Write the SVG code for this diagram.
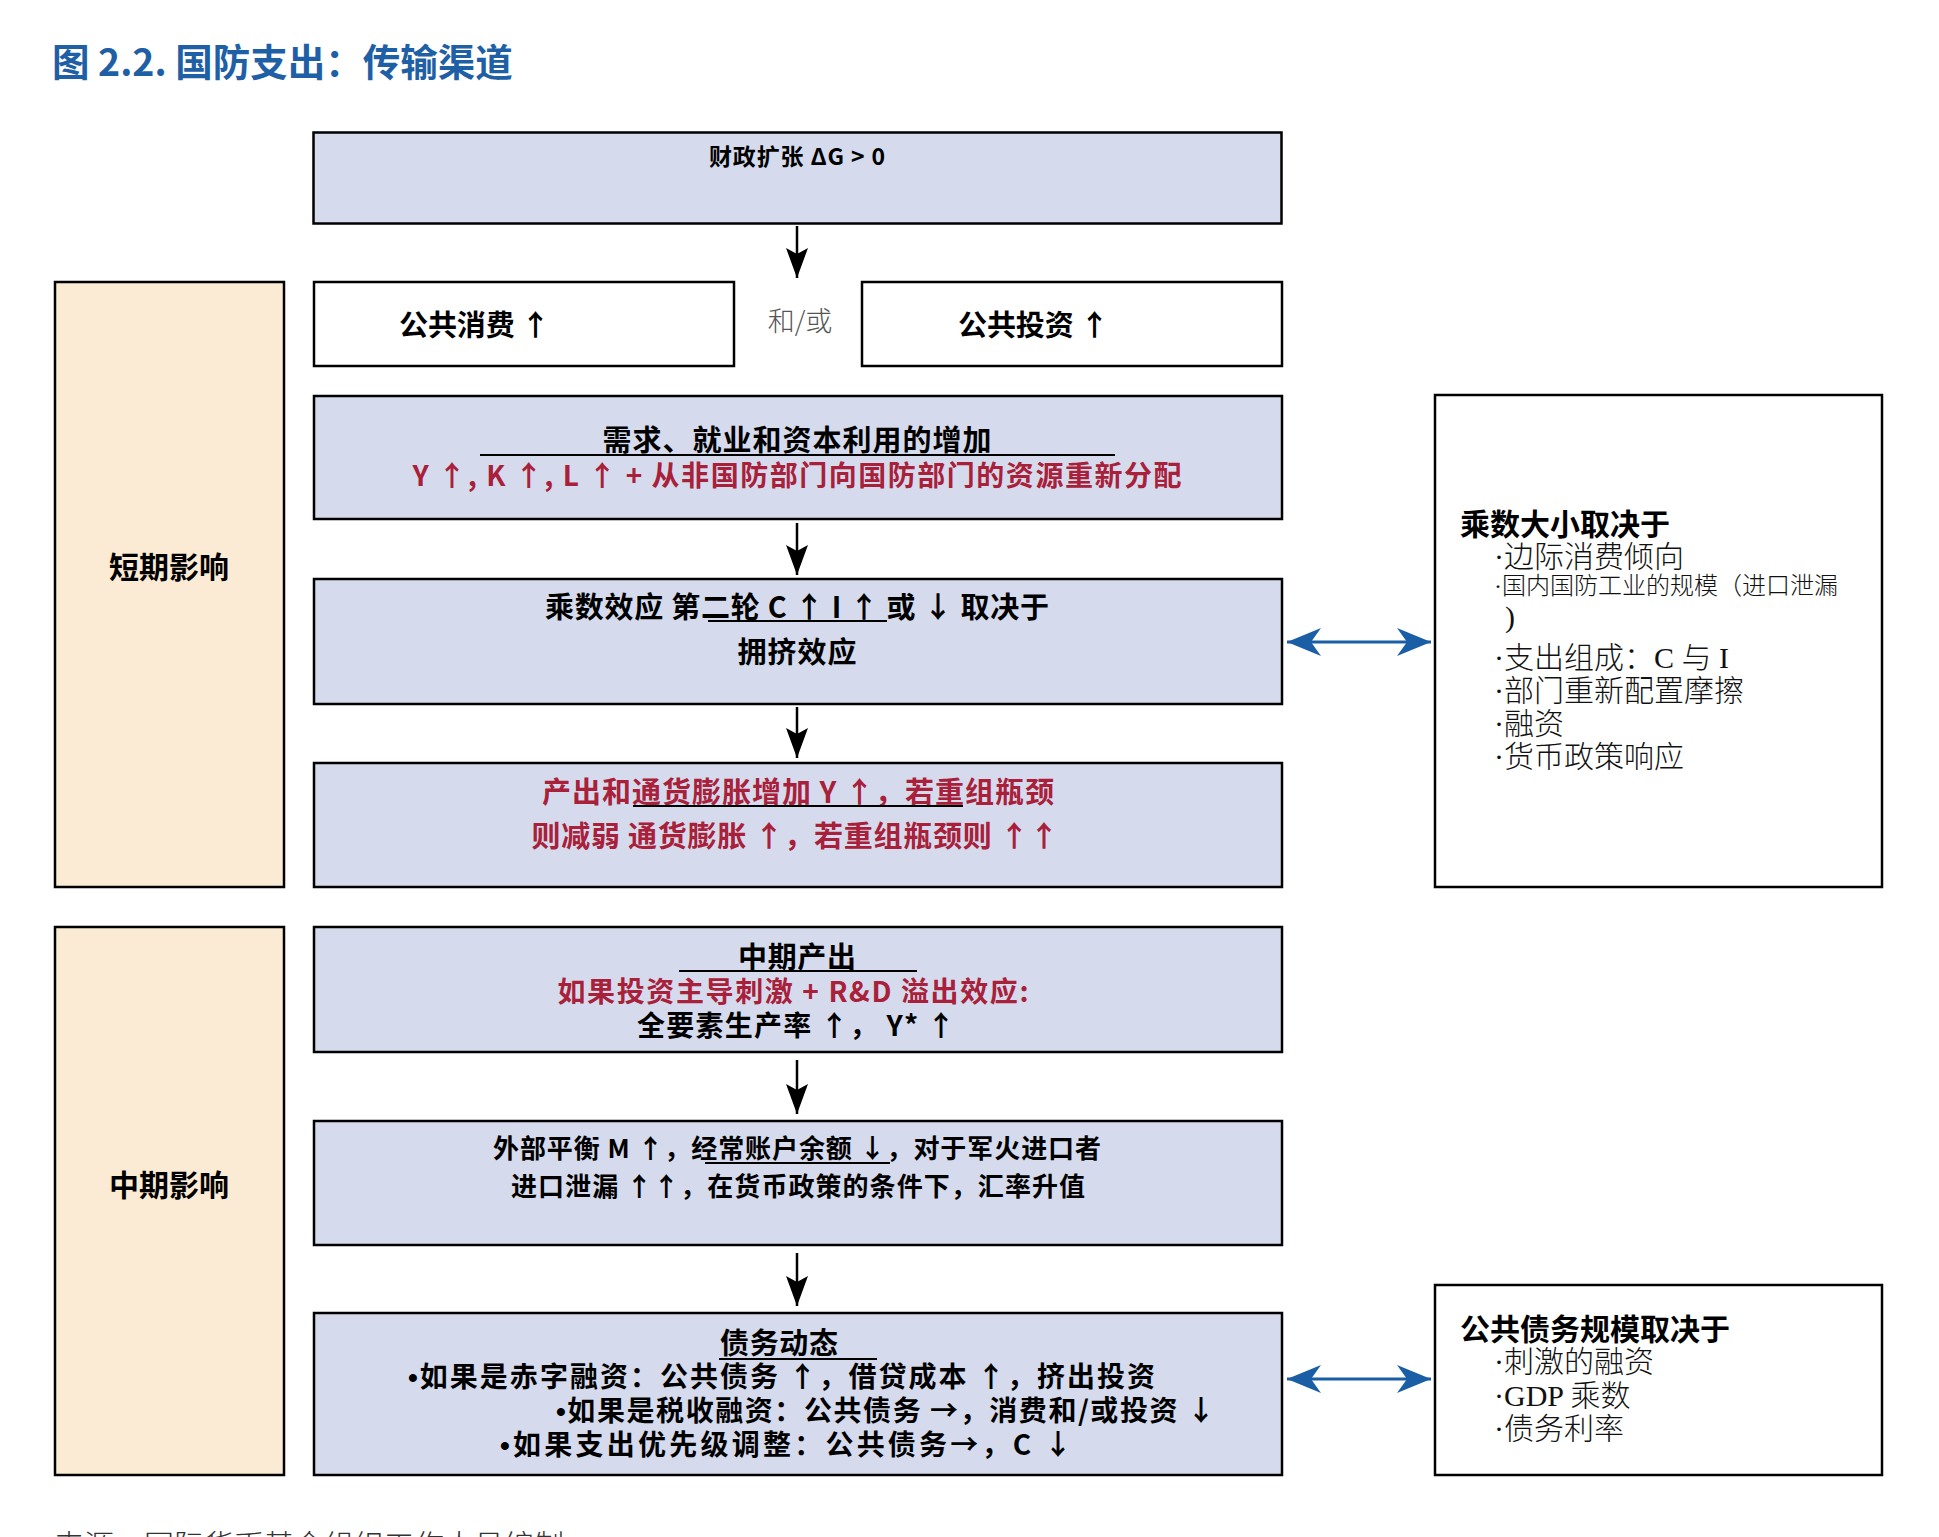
<svg xmlns="http://www.w3.org/2000/svg" width="1939" height="1537" viewBox="0 0 1939 1537">
<style>
.bx{fill:#d5dbec;stroke:#000;stroke-width:2.5}
.wb{fill:#fff;stroke:#000;stroke-width:2.5}
.pb{fill:#fbebd4;stroke:#000;stroke-width:2.5}
.b{font-family:"Noto Sans CJK SC","Noto Sans",sans-serif;font-weight:700;fill:#000}
.r{fill:#a8203a}
.c{text-anchor:middle}
.dot{font-family:"Liberation Sans",sans-serif}
.l{font-family:"Liberation Serif","Noto Sans CJK SC",serif;font-weight:300;fill:#111}
.ul{stroke:#000;stroke-width:2}
.ar{stroke:#000;stroke-width:2.5;fill:none}
.ab{stroke:#1a5ea6;stroke-width:3;fill:none}
</style>
<defs>
<marker id="ah" markerUnits="userSpaceOnUse" viewBox="-32 -12 34 24" markerWidth="34" markerHeight="24" refX="0" refY="0" orient="auto">
<path d="M0,0 L-30,-11 L-24,0 L-30,11 Z" fill="#000"/>
</marker>
<marker id="bh" markerUnits="userSpaceOnUse" viewBox="-36 -16 38 32" markerWidth="38" markerHeight="32" refX="0" refY="0" orient="auto-start-reverse">
<path d="M0,0 L-34,-14 L-24,0 L-34,14 Z" fill="#1a5ea6"/>
</marker>
</defs>
<rect width="1939" height="1537" fill="#fff"/>
<text x="52" y="76" font-family="Noto Sans CJK SC,sans-serif" font-weight="700" font-size="37.5" fill="#1f5fa6">图 2.2. 国防支出：传输渠道</text>

<g id="connectors">
<line class="ar" x1="797" y1="226" x2="797" y2="278" marker-end="url(#ah)"/>
<line class="ar" x1="797" y1="523" x2="797" y2="575" marker-end="url(#ah)"/>
<line class="ar" x1="797" y1="707" x2="797" y2="758" marker-end="url(#ah)"/>
<line class="ar" x1="797" y1="1060" x2="797" y2="1114" marker-end="url(#ah)"/>
<line class="ar" x1="797" y1="1253" x2="797" y2="1306" marker-end="url(#ah)"/>
<line class="ab" x1="1287" y1="642" x2="1431" y2="642" marker-start="url(#bh)" marker-end="url(#bh)"/>
<line class="ab" x1="1287" y1="1379" x2="1431" y2="1379" marker-start="url(#bh)" marker-end="url(#bh)"/>
</g>

<g id="fiscal">
<rect class="bx" x="313.5" y="132.5" width="968" height="91"/>
<text class="b c" x="797" y="165" font-size="23" textLength="176" lengthAdjust="spacing">财政扩张 ΔG &gt; 0</text>
</g>
<g id="public-consumption">
<rect class="wb" x="314" y="282" width="420" height="84"/>
<text class="b" x="399" y="336" font-size="29" textLength="151" lengthAdjust="spacing">公共消费 ↑</text>
</g>
<text id="andor" x="800" y="331" font-family="Noto Sans CJK SC,sans-serif" font-weight="300" font-size="27" fill="#555" text-anchor="middle">和/或</text>
<g id="public-investment">
<rect class="wb" x="862" y="282" width="420" height="84"/>
<text class="b" x="958" y="336" font-size="29" textLength="151" lengthAdjust="spacing">公共投资 ↑</text>
</g>

<g id="short-term">
<rect class="pb" x="55" y="282" width="229" height="605"/>
<text class="b c" x="169" y="578" font-size="30">短期影响</text>
</g>
<g id="mid-term">
<rect class="pb" x="55" y="927" width="229" height="548"/>
<text class="b c" x="169" y="1196" font-size="30">中期影响</text>
</g>

<g id="demand">
<rect class="bx" x="314" y="396" width="968" height="123"/>
<text class="b c" x="797" y="451" font-size="29" textLength="389" lengthAdjust="spacing">需求、就业和资本利用的增加</text>
<line class="ul" x1="480" y1="455" x2="1115" y2="455"/>
<text class="b c r" x="797" y="486" font-size="28" textLength="769" lengthAdjust="spacing">Y ↑, K ↑, L ↑ + 从非国防部门向国防部门的资源重新分配</text>
</g>
<g id="multiplier">
<rect class="bx" x="314" y="579" width="968" height="125"/>
<text class="b c" x="797" y="618" font-size="29" textLength="504" lengthAdjust="spacing">乘数效应 第二轮 C ↑ I ↑ 或 ↓ 取决于</text>
<line class="ul" x1="708" y1="621" x2="887" y2="621"/>
<text class="b c" x="797" y="663" font-size="29" textLength="119" lengthAdjust="spacing">拥挤效应</text>
</g>
<g id="output-inflation">
<rect class="bx" x="314" y="763" width="968" height="124"/>
<text class="b c r" x="798" y="803" font-size="29" textLength="512" lengthAdjust="spacing">产出和通货膨胀增加 Y ↑，若重组瓶颈</text>
<line class="ul" x1="633" y1="806" x2="963" y2="806"/>
<text class="b c r" x="795" y="847" font-size="29" textLength="527" lengthAdjust="spacing">则减弱 通货膨胀 ↑，若重组瓶颈则 ↑↑</text>
</g>
<g id="mid-output">
<rect class="bx" x="314" y="927" width="968" height="125"/>
<text class="b c" x="797" y="968" font-size="29" textLength="118" lengthAdjust="spacing">中期产出</text>
<line class="ul" x1="679" y1="971" x2="917" y2="971"/>
<text class="b c r" x="793" y="1002" font-size="28" textLength="471" lengthAdjust="spacing">如果投资主导刺激 + R&amp;D 溢出效应:</text>
<text class="b c" x="796" y="1036" font-size="28" textLength="318" lengthAdjust="spacing">全要素生产率 ↑， Y* ↑</text>
</g>
<g id="external">
<rect class="bx" x="314" y="1121" width="968" height="124"/>
<text class="b c" x="797" y="1158" font-size="26" textLength="608" lengthAdjust="spacing">外部平衡 M ↑，经常账户余额 ↓，对于军火进口者</text>
<line class="ul" x1="705" y1="1163" x2="890" y2="1163"/>
<text class="b c" x="798" y="1196" font-size="26" textLength="574" lengthAdjust="spacing">进口泄漏 ↑↑，在货币政策的条件下，汇率升值</text>
</g>
<g id="debt">
<rect class="bx" x="314" y="1313" width="968" height="162"/>
<text class="b c" x="779" y="1354" font-size="29" textLength="118" lengthAdjust="spacing">债务动态</text>
<line class="ul" x1="719" y1="1359" x2="877" y2="1359"/>
<text class="b" x="408" y="1387" font-size="28" textLength="747" lengthAdjust="spacing"><tspan class="dot">•</tspan>如果是赤字融资：公共债务 ↑，借贷成本 ↑，挤出投资</text>
<text class="b" x="556" y="1421" font-size="28" textLength="659" lengthAdjust="spacing"><tspan class="dot">•</tspan>如果是税收融资：公共债务 →，消费和/或投资 ↓</text>
<text class="b" x="500" y="1455" font-size="28" textLength="572" lengthAdjust="spacing"><tspan class="dot">•</tspan>如果支出优先级调整：公共债务→，C ↓</text>
</g>

<g id="multiplier-size">
<rect class="wb" x="1435" y="395" width="447" height="492"/>
<text class="b" x="1460" y="535" font-size="30">乘数大小取决于</text>
<text class="l" x="1494" y="567" font-size="30">·边际消费倾向</text>
<text class="l" x="1494" y="594" font-size="24">·国内国防工业的规模（进口泄漏</text>
<text class="l" x="1505" y="627" font-size="30">)</text>
<text class="l" x="1494" y="668" font-size="30">·支出组成：C 与 I</text>
<text class="l" x="1494" y="701" font-size="30">·部门重新配置摩擦</text>
<text class="l" x="1494" y="734" font-size="30">·融资</text>
<text class="l" x="1494" y="767" font-size="30">·货币政策响应</text>
</g>
<g id="debt-size">
<rect class="wb" x="1435" y="1285" width="447" height="190"/>
<text class="b" x="1460" y="1340" font-size="30">公共债务规模取决于</text>
<text class="l" x="1494" y="1372" font-size="30">·刺激的融资</text>
<text class="l" x="1494" y="1406" font-size="30">·GDP 乘数</text>
<text class="l" x="1494" y="1439" font-size="30">·债务利率</text>
</g>
<text x="54" y="1556" font-family="Noto Sans CJK SC,sans-serif" font-weight="300" font-size="30" fill="#333">来源：国际货币基金组织工作人员编制</text>
</svg>
